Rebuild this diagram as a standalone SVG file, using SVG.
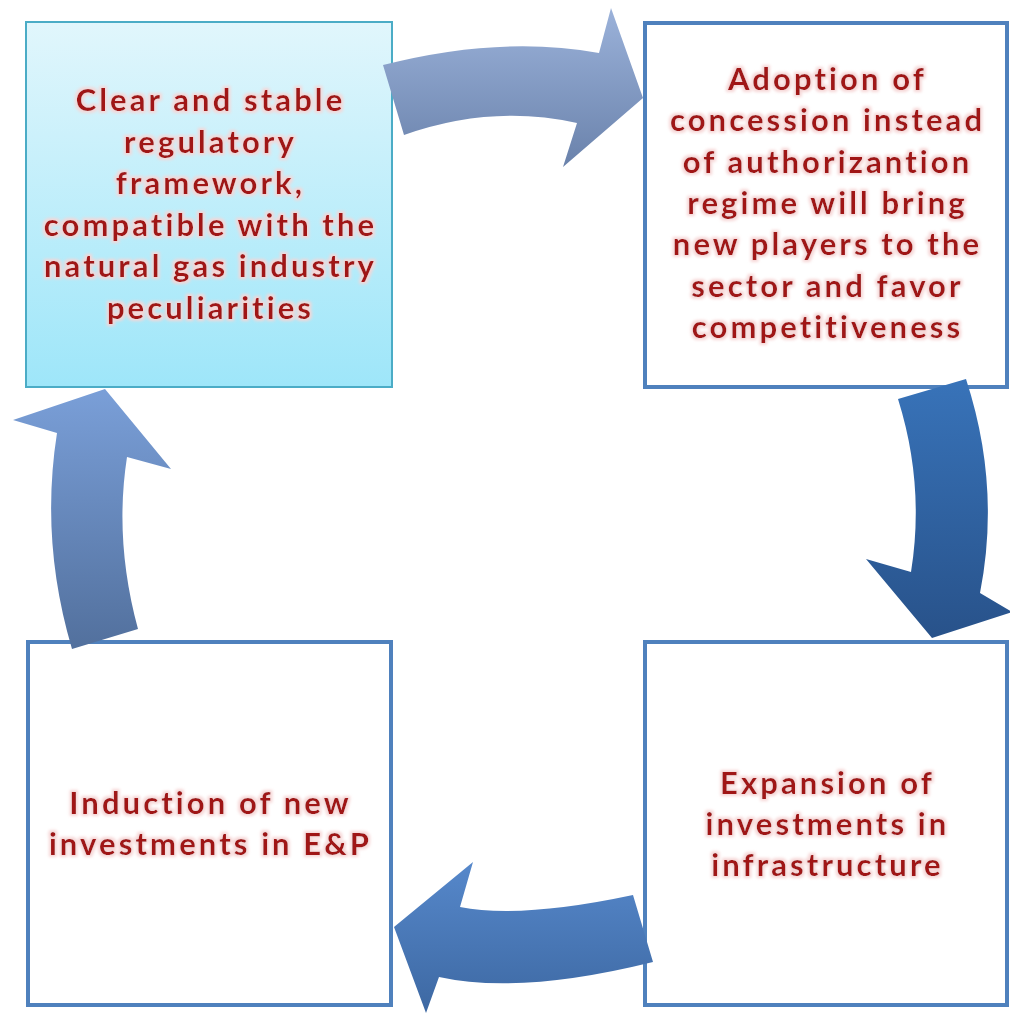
<svg xmlns="http://www.w3.org/2000/svg" width="1010" height="1015" viewBox="0 0 1010 1015">
<defs>
<linearGradient id="gBox1" x1="0" y1="0" x2="0" y2="1"><stop offset="0" stop-color="#e1f6fc"/><stop offset="1" stop-color="#9ee6f9"/></linearGradient>
<linearGradient id="gA1" x1="0" y1="0" x2="0" y2="1"><stop offset="0" stop-color="#9bb2da"/><stop offset="1" stop-color="#6a82ab"/></linearGradient>
<linearGradient id="gA2" x1="0" y1="0" x2="0" y2="1"><stop offset="0" stop-color="#3873b9"/><stop offset="1" stop-color="#28528a"/></linearGradient>
<linearGradient id="gA3" x1="0" y1="0" x2="0" y2="1"><stop offset="0" stop-color="#5688cb"/><stop offset="1" stop-color="#3d68a2"/></linearGradient>
<linearGradient id="gA4" x1="0" y1="0" x2="0" y2="1"><stop offset="0" stop-color="#7a9fd8"/><stop offset="1" stop-color="#52709d"/></linearGradient>
<filter id="glow" x="-10%" y="-30%" width="120%" height="160%">
<feMorphology in="SourceAlpha" operator="dilate" radius="1.5" result="d"/>
<feGaussianBlur in="d" stdDeviation="1.5" result="b"/>
<feFlood flood-color="#f6d6d6"/>
<feComposite operator="in" in2="b" result="halo"/>
<feMerge><feMergeNode in="halo"/><feMergeNode in="SourceGraphic"/></feMerge>
</filter>
</defs>
<style>
.box{fill:#ffffff;stroke:#4f81bd;stroke-width:4}
.box1{fill:url(#gBox1);stroke:#4bacc6;stroke-width:2}
.t{font-family:"Lato","Open Sans",sans-serif;font-weight:bold;font-size:31px;letter-spacing:3.1px;fill:#a01618;text-anchor:middle;filter:url(#glow)}
</style>
<g id="node-regulatory">
<rect class="box1" x="26" y="22" width="366" height="365"/>
<text class="t"><tspan x="210.5" y="111">Clear and stable</tspan><tspan x="210.5" y="152.5">regulatory</tspan><tspan x="210.5" y="194">framework,</tspan><tspan x="210.5" y="235.5">compatible with the</tspan><tspan x="210.5" y="277">natural gas industry</tspan><tspan x="210.5" y="318.5">peculiarities</tspan></text>
</g>
<g id="node-concession">
<rect class="box" x="645" y="23" width="362" height="364"/>
<text class="t"><tspan x="827.5" y="90">Adoption of</tspan><tspan x="827.5" y="131">concession instead</tspan><tspan x="827.5" y="173">of authorizantion</tspan><tspan x="827.5" y="214">regime will bring</tspan><tspan x="827.5" y="255">new players to the</tspan><tspan x="827.5" y="297">sector and favor</tspan><tspan x="827.5" y="338">competitiveness</tspan></text>
</g>
<g id="node-infrastructure">
<rect class="box" x="645" y="642" width="362" height="363"/>
<text class="t"><tspan x="827.5" y="794">Expansion of</tspan><tspan x="827.5" y="835">investments in</tspan><tspan x="827.5" y="876">infrastructure</tspan></text>
</g>
<g id="node-ep">
<rect class="box" x="28" y="642" width="363" height="363"/>
<text class="t"><tspan x="210.5" y="814">Induction of new</tspan><tspan x="210.5" y="855">investments in E&amp;P</tspan></text>
</g>
<g id="connectors">
<path fill="url(#gA1)" d="M383,65 Q501,35 599,53 L611,8 L643,98 L563,167 L577,123 Q492,104 404,135 Z"/>
<path fill="url(#gA2)" d="M898,399 Q925,485 911,572 L866,559 L932,638 L1012,612 L980,593 Q1001,486 966,379 Z"/>
<path fill="url(#gA3)" d="M633,895 Q520,919 460,907 L473,862 L394,927 L426,1013 L439,977 Q520,995 653,962 Z"/>
<path fill="url(#gA4)" d="M72,649 Q40,541 57,433 L13,420 L105,389 L171,469 L127,457 Q114,541 138,629 Z"/>
</g>
</svg>
